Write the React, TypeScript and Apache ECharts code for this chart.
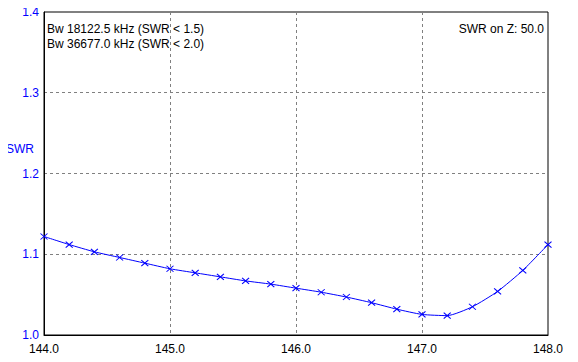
import React, { useEffect, useRef } from "react";
import * as echarts from "echarts";

const freqs = [144.0, 144.2, 144.4, 144.6, 144.8, 145.0, 145.2, 145.4, 145.6, 145.8, 146.0, 146.2, 146.4, 146.6, 146.8, 147.0, 147.2, 147.4, 147.6, 147.8, 148.0];
const swr = [1.122, 1.112, 1.103, 1.096, 1.089, 1.082, 1.077, 1.072, 1.067, 1.063, 1.058, 1.053, 1.047, 1.040, 1.032, 1.0255, 1.024, 1.035, 1.054, 1.080, 1.112];
const bwLines = ["Bw 18122.5 kHz (SWR < 1.5)", "Bw 36677.0 kHz (SWR < 2.0)"];
const zText = "SWR on Z: 50.0";
const yName = "SWR";

const FONT = "Liberation Sans, Arial, sans-serif";

export default function App() {
  const ref = useRef<HTMLDivElement>(null);
  useEffect(() => {
    const chart = echarts.init(ref.current!, null, { renderer: "svg" });
    chart.setOption({
      animation: false,
      backgroundColor: "#ffffff",
      grid: { left: 44, right: 30, top: 12, bottom: 27, show: true, borderColor: "#000", borderWidth: 1, backgroundColor: "transparent" },
      xAxis: {
        type: "value",
        min: 144,
        max: 148,
        interval: 1,
        axisLine: { show: true, lineStyle: { color: "#000" } },
        axisTick: { show: false },
        axisLabel: { color: "#000", fontFamily: FONT, fontSize: 12, margin: 8, formatter: (v: number) => v.toFixed(1) },
        splitLine: { show: true, lineStyle: { color: "#808080", type: [3, 3], width: 1 } },
      },
      yAxis: {
        type: "value",
        min: 1.0,
        max: 1.4,
        interval: 0.1,
        axisLine: { show: true, lineStyle: { color: "#000" } },
        axisTick: { show: false },
        axisLabel: { color: "#0000ff", fontFamily: FONT, fontSize: 12, margin: 5, formatter: (v: number) => v.toFixed(1) },
        splitLine: { show: true, lineStyle: { color: "#808080", type: [3, 3], width: 1 } },
      },
      graphic: [
        { type: "text", left: 47, top: 21, style: { text: bwLines.join("\n"), font: `12px ${FONT}`, fill: "#000", lineHeight: 15 } },
        { type: "text", right: 34, top: 21, style: { text: zText, font: `12px ${FONT}`, fill: "#000", lineHeight: 15 } },
        { type: "text", left: 6, top: 143, style: { text: yName, font: `12px ${FONT}`, fill: "#0000ff" } },
      ],
      series: [
        {
          type: "line",
          data: freqs.map((f, i) => [f, swr[i]]),
          smooth: 0.2,
          lineStyle: { color: "#0000ff", width: 1 },
          symbol: "path://M0,0L10,10M10,0L0,10",
          symbolSize: [7, 6],
          itemStyle: { color: "#0000ff", borderColor: "#0000ff", borderWidth: 1 },
          clip: false,
        },
      ],
    });
    return () => chart.dispose();
  }, []);
  return <div ref={ref} style={{ width: 578, height: 362, margin: -8 }} />;
}
